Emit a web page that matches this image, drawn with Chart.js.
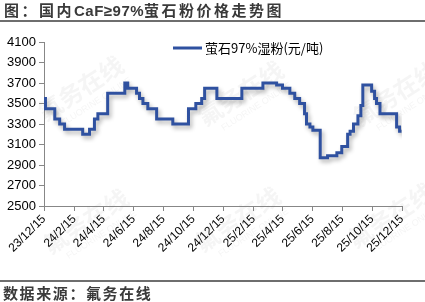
<!DOCTYPE html>
<html><head><meta charset="utf-8">
<script src="https://cdn.jsdelivr.net/npm/chart.js@4/dist/chart.umd.min.js"></script>
<style>
html,body{margin:0;padding:0;background:#fff;width:425px;height:302px;overflow:hidden;}
#wrap{position:relative;width:425px;height:302px;}
canvas{position:absolute;left:0;top:0;}
#title{position:absolute;left:4px;top:1px;height:18px;line-height:18px;font-weight:bold;font-size:15px;color:#3a3a3a;white-space:nowrap;font-family:"Noto Sans CJK SC",sans-serif;}
#title .cj{letter-spacing:2.5px;}
#title .lt{font-family:"Liberation Sans",Arial,sans-serif;letter-spacing:0.5px;}
#tline{position:absolute;left:0;top:20px;width:425px;height:2px;background:#6e6e6e;}
#fline{position:absolute;left:0;top:280px;width:425px;height:2px;background:#6e6e6e;}
#foot{position:absolute;left:3px;top:284px;height:17px;line-height:17px;font-weight:bold;font-size:15px;color:#3a3a3a;letter-spacing:1.6px;white-space:nowrap;font-family:"Noto Sans CJK SC",sans-serif;}
</style></head>
<body><div id="wrap">
<canvas id="c" width="425" height="302"></canvas>
<div id="title"><span class="cj">图：国内</span><span class="lt">CaF≥97%</span><span class="cj">萤石粉价格走势图</span></div>
<div id="tline"></div>
<div id="fline"></div>
<div id="foot">数据来源：氟务在线</div>
</div>
<script>
// ---- data ----
const seriesName = '萤石97%湿粉(元/吨)';
const tickDates  = ['2023-12-15','2024-02-15','2024-04-15','2024-06-15','2024-08-15','2024-10-15','2024-12-15','2025-02-15','2025-04-15','2025-06-15','2025-08-15','2025-10-15','2025-12-15'];
const tickLabels = ['23/12/15','24/2/15','24/4/15','24/6/15','24/8/15','24/10/15','24/12/15','25/2/15','25/4/15','25/6/15','25/8/15','25/10/15','25/12/15'];
const changeDates = ['2023-12-15','2023-12-18','2024-01-06','2024-01-16','2024-01-26','2024-03-03','2024-03-17','2024-03-27','2024-04-03','2024-04-23',
  '2024-05-28','2024-06-03','2024-06-21','2024-06-27','2024-07-04','2024-07-14','2024-08-01','2024-09-03','2024-10-05','2024-10-20',
  '2024-11-01','2024-11-07','2024-12-02','2025-01-22','2025-03-06','2025-04-03','2025-04-15','2025-04-30','2025-05-10','2025-05-20',
  '2025-05-30','2025-06-03','2025-06-10','2025-06-16','2025-07-01','2025-07-16','2025-08-04','2025-08-14','2025-08-26','2025-08-31',
  '2025-09-07','2025-09-16','2025-09-22','2025-09-26','2025-10-14','2025-10-20','2025-10-24','2025-10-31','2025-12-04','2025-12-10','2025-12-14'];
const prices = [3550,3450,3350,3300,3250,3200,3250,3350,3400,3600,
  3700,3650,3600,3550,3500,3450,3350,3300,3450,3500,
  3550,3650,3550,3650,3700,3680,3650,3600,3550,3500,
  3400,3300,3270,3240,2970,2990,3020,3080,3200,3230,
  3300,3380,3480,3680,3620,3550,3500,3400,3270,3230,3230];
const yMin = 2500, yMax = 4100, yStep = 200;
const watermarkText = ['氟务在线', 'FLUORINE ONLINE'];

// ---- build ----
const DAY = 86400000;
const origin = Date.parse(tickDates[0]);
const toDay = s => (Date.parse(s) - origin) / DAY;
const points = changeDates.map((d, i) => ({x: toDay(d), y: prices[i]}));
const tickPos = tickDates.map(toDay);
const lineColor = '#2F51A0';
const axisColor = '#878787';

const watermarkPlugin = {
  id: 'wm',
  beforeDatasetsDraw(chart) {
    const ctx = chart.ctx;
    const spots = [[85, 95], [245, 100], [400, 100], [90, 228], [242, 226], [395, 222]];
    ctx.save();
    spots.forEach(([cx, cy]) => {
      ctx.save();
      ctx.translate(cx, cy);
      ctx.rotate(-33 * Math.PI / 180);
      ctx.fillStyle = 'rgba(110,110,110,0.07)';
      ctx.textAlign = 'center'; ctx.textBaseline = 'middle';
      ctx.font = 'bold 24px "Noto Sans CJK SC"';
      ctx.fillText(watermarkText[0], 0, -8);
      ctx.font = '9px "Liberation Sans"';
      ctx.fillText(watermarkText[1], 6, 12);
      ctx.restore();
    });
    ctx.restore();
  }
};
const shadowPlugin = {
  id: 'shadow',
  beforeDatasetDraw(chart) { const c = chart.ctx; c.save(); c.shadowColor = 'rgba(0,0,0,0.3)'; c.shadowBlur = 4; c.shadowOffsetX = 2; c.shadowOffsetY = 3; },
  afterDatasetDraw(chart) { chart.ctx.restore(); }
};
const legendPlugin = {
  id: 'lg',
  afterDraw(chart) {
    const {ctx, chartArea: a} = chart;
    const x0 = a.left + 129, y0 = a.top + 6;
    ctx.save();
    ctx.strokeStyle = lineColor; ctx.lineWidth = 3;
    ctx.beginPath(); ctx.moveTo(x0, y0); ctx.lineTo(x0 + 29, y0); ctx.stroke();
    ctx.font = '13px "Noto Sans CJK SC"'; ctx.fillStyle = '#000'; ctx.textBaseline = 'middle';
    ctx.fillText(chart.data.datasets[0].label, x0 + 32, y0 + 0.5);
    ctx.restore();
  }
};

new Chart(document.getElementById('c'), {
  type: 'line',
  data: { datasets: [{ label: seriesName, data: points, stepped: true, borderColor: lineColor, borderWidth: 3,
    pointRadius: 0, fill: false, borderJoinStyle: 'miter' }] },
  options: {
    responsive: false, animation: false, devicePixelRatio: 1,
    layout: { padding: { left: 0, right: 23, top: 42, bottom: 26 } },
    plugins: { legend: { display: false }, tooltip: { enabled: false } },
    scales: {
      x: {
        type: 'linear', min: tickPos[0], max: tickPos[tickPos.length - 1],
        afterBuildTicks: s => { s.ticks = tickPos.map(v => ({value: v})); },
        afterFit: s => { s.height = 70; },
        ticks: { autoSkip: false, maxRotation: 45, minRotation: 45, padding: 1, color: '#000',
          font: { family: '"Liberation Sans", Arial', size: 12 },
          callback: (v, i) => tickLabels[i] },
        grid: { drawOnChartArea: false, drawTicks: true, tickLength: 5, color: axisColor },
        border: { color: axisColor, width: 1 }
      },
      y: {
        min: yMin, max: yMax,
        afterFit: s => { s.width = 44; },
        ticks: { stepSize: yStep, padding: 3, color: '#000', font: { family: '"Liberation Sans", Arial', size: 13 },
          callback: v => String(v) },
        grid: { drawOnChartArea: false, drawTicks: true, tickLength: 5, color: axisColor },
        border: { color: axisColor, width: 1 }
      }
    }
  },
  plugins: [watermarkPlugin, shadowPlugin, legendPlugin]
});
</script>
</body></html>
